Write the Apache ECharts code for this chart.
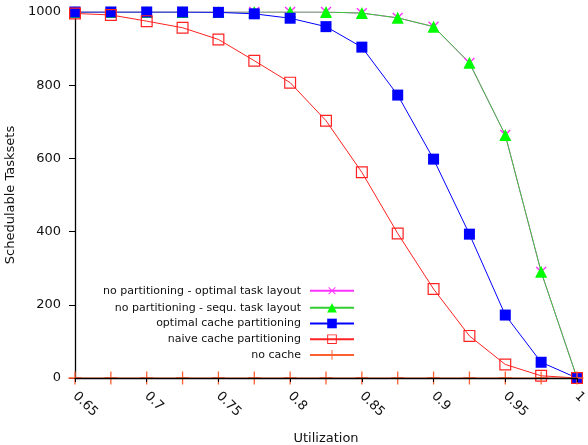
<!DOCTYPE html>
<html>
<head>
<meta charset="UTF-8">
<title>Schedulable Tasksets</title>
<script src="https://cdn.jsdelivr.net/npm/echarts@6/dist/echarts.min.js"></script>
<style>
  body { margin: 0; background: #fff; }
  #chart { width: 588px; height: 445px; }
</style>
</head>
<body>
<div id="chart"></div>
<script>
// utilization steps
var util = [0.65, 0.675, 0.7, 0.725, 0.75, 0.775, 0.8, 0.825, 0.85, 0.875, 0.9, 0.925, 0.95, 0.975, 1.0];

var noPartOptimal = [1000, 1000, 1000, 1000, 1000, 1000, 1000, 1000, 997, 984, 960, 861, 664, 290, 0];
var noPartSequ    = [1000, 1000, 1000, 1000, 1000, 1000, 1000, 1000, 997, 984, 960, 861, 664, 290, 0];
var optimalCache  = [1000, 1000, 1000, 1000, 999, 995, 983, 960, 904, 773, 598, 393, 172, 43, 0];
var naiveCache    = [996, 992, 975, 957, 925, 867, 807, 703, 562, 395, 243, 115, 37, 6, 0];
var noCache       = [0, 0, 0, 0, 0, 0, 0, 0, 0, 0, 0, 0, 0, 0, 0];

var seriesNames = [
  'no partitioning - optimal task layout',
  'no partitioning - sequ. task layout',
  'optimal cache partitioning',
  'naive cache partitioning',
  'no cache'
];

function pairs(vals) {
  return util.map(function (u, i) { return [u, vals[i]]; });
}

// symbols
var plusPath = 'path://M4.5,0H5.5V4.5H10V5.5H5.5V10H4.5V5.5H0V4.5H4.5Z';
var hollowSquare = 'path://M0,0H10V10H0Z M1,1V9H9V1Z';

var chart = echarts.init(document.getElementById('chart'));

function mkSeries(name, vals, lineColor, markColor, symbol, size, rot) {
  return {
    name: name,
    type: 'line',
    data: pairs(vals),
    symbol: symbol,
    symbolSize: size,
    symbolRotate: rot || 0,
    showAllSymbol: true,
    animation: false,
    lineStyle: { color: lineColor, width: 1 },
    itemStyle: { color: markColor },
    emphasis: { disabled: true }
  };
}

chart.setOption({
  animation: false,
  textStyle: { fontFamily: 'DejaVu Sans' },
  grid: { left: 75, right: 11, top: 12, bottom: 67, containLabel: false, outerBoundsMode: 'none' },
  legend: {
    orient: 'vertical',
    align: 'right',
    right: 228,
    top: 279,
    itemWidth: 44,
    itemHeight: 12,
    itemGap: 4.7,
    padding: 5,
    textStyle: { fontSize: 11, color: '#111', padding: [0, 4, 0, 0] },
    data: seriesNames
  },
  xAxis: {
    type: 'value',
    min: 0.65,
    max: 1,
    interval: 0.05,
    name: 'Utilization',
    nameLocation: 'middle',
    nameGap: 54,
    nameTextStyle: { fontSize: 13, color: '#111' },
    axisLine: { lineStyle: { color: '#000', width: 1.3 } },
    axisTick: { inside: false, length: 4, lineStyle: { color: '#000' } },
    axisLabel: {
      rotate: -45,
      fontSize: 13,
      color: '#111',
      margin: 16,
      formatter: function (v) { return String(Math.round(v * 100) / 100); }
    },
    splitLine: { show: false },
    z: 10
  },
  yAxis: {
    type: 'value',
    min: 0,
    max: 1000,
    interval: 200,
    name: 'Schedulable Tasksets',
    nameLocation: 'middle',
    nameGap: 58,
    nameTextStyle: { fontSize: 13, color: '#111' },
    axisLine: { show: true, lineStyle: { color: '#000', width: 1.3 } },
    axisTick: { show: true, length: 6, lineStyle: { color: '#000' } },
    axisLabel: { fontSize: 13, color: '#111', margin: 14, formatter: function (v) { return String(v); } },
    splitLine: { show: false }
  },
  series: [
    mkSeries(seriesNames[0], noPartOptimal, '#ff33ff', '#ff33ff', plusPath, 14, 45),
    mkSeries(seriesNames[1], noPartSequ, '#33cc33', '#00ff00', 'triangle', 12),
    mkSeries(seriesNames[2], optimalCache, '#0000ff', '#0000ff', 'rect', 11),
    mkSeries(seriesNames[3], naiveCache, '#ff2222', '#ff2222', hollowSquare, 12),
    mkSeries(seriesNames[4], noCache, '#ff6030', '#ff6030', plusPath, 13)
  ]
});
</script>
</body>
</html>
